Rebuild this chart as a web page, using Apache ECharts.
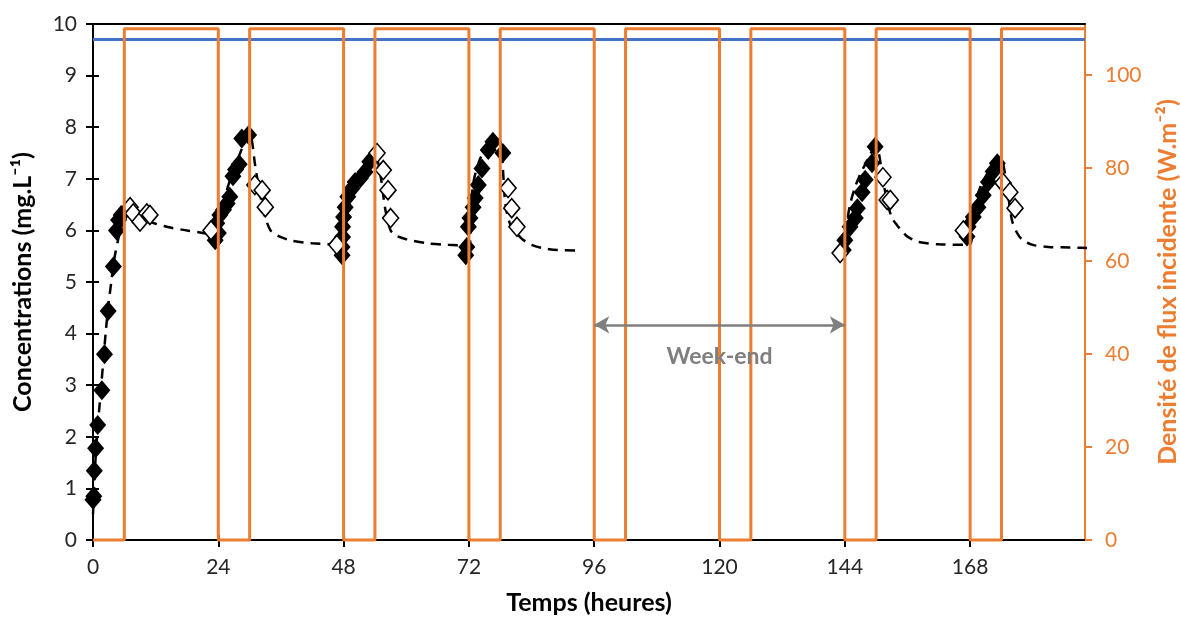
<!DOCTYPE html>
<html><head><meta charset="utf-8">
<script src="https://cdn.jsdelivr.net/npm/echarts@6/dist/echarts.min.js"></script>
<style>html,body{margin:0;padding:0;background:#fff}#c{width:1180px;height:621px}</style>
</head><body><div id="c"></div>
<script>
// ---- tick labels ----
const xTicks = [0, 24, 48, 72, 96, 120, 144, 168];
const yLeftTicks = [0, 1, 2, 3, 4, 5, 6, 7, 8, 9, 10];
const yRightTicks = [0, 20, 40, 60, 80, 100];

// ---- measured concentrations, lights on (filled diamonds) ----
const filledT = [0, 0.15, 0.25, 0.5, 0.9, 1.7, 2.2, 2.9, 3.9, 4.5, 4.9, 5.4,
  23.4, 23.7, 24, 24.3, 25, 25.7, 26.2, 26.8, 27.3, 28, 28.5, 29.8,
  47.7, 47.7, 47.8, 47.8, 48, 48.3, 48.8, 49.6, 50.2, 51.2, 52.1, 53,
  71.4, 71.6, 71.9, 72.2, 72.8, 73.2, 73.8, 74.5, 75.7, 76.6, 78.5,
  143.7, 144, 145, 146, 146.4, 147.3, 147.9, 149.2, 149.8,
  167.4, 167.6, 168.6, 169.5, 170.5, 171.5, 172.4, 173.2];
const filledC = [0.78, 0.85, 1.34, 1.78, 2.23, 2.9, 3.6, 4.44, 5.3, 6.0, 6.2, 6.3,
  5.81, 6.14, 5.95, 6.3, 6.4, 6.52, 6.65, 7.05, 7.18, 7.28, 7.78, 7.85,
  5.52, 5.68, 5.87, 6.07, 6.26, 6.45, 6.65, 6.81, 6.94, 7.01, 7.13, 7.33,
  5.52, 5.68, 6.07, 6.24, 6.45, 6.63, 6.88, 7.2, 7.56, 7.72, 7.5,
  5.62, 5.81, 6.07, 6.24, 6.43, 6.74, 6.98, 7.3, 7.62,
  5.88, 6.07, 6.26, 6.45, 6.68, 6.94, 7.14, 7.3];

// ---- measured concentrations, lights off (open diamonds) ----
const openT = [7.1, 7.7, 9, 10.3, 10.9,
  22.6, 31, 32.4, 33,
  46.7, 54.4, 55.6, 56.5, 57,
  79.5, 80.2, 81.2,
  143.1, 151.3, 152.1, 152.7,
  166.7, 174.3, 175.6, 176.6];
const openC = [6.45, 6.33, 6.17, 6.33, 6.3,
  6.0, 6.88, 6.78, 6.45,
  5.72, 7.5, 7.17, 6.78, 6.24,
  6.82, 6.43, 6.07,
  5.56, 7.03, 6.59, 6.59,
  6.0, 6.92, 6.74, 6.43];

// ---- model (dashed line), weekdays 1-4 ----
const model1T = [0, 0.5, 1, 1.5, 2, 2.5, 3, 3.5, 4, 5, 6, 7, 8, 10, 12, 15, 18, 21, 24,
  24.5, 25, 26, 27, 28, 29, 30, 30.5, 31, 32, 33, 34, 35, 36, 38, 42, 48,
  48.5, 49, 50, 51, 52, 53, 54, 55, 56, 57, 58, 60, 64, 68, 72,
  72.5, 73, 74, 75, 76, 77, 78, 78.5, 79, 80, 82, 84, 86, 89, 93];
const model1C = [0.5, 1.6, 2.3, 2.9, 3.5, 4.1, 4.6, 5.0, 5.4, 5.9, 6.2, 6.3, 6.28, 6.2, 6.13, 6.05, 6.0, 5.95, 5.9,
  6.3, 6.55, 6.9, 7.2, 7.45, 7.7, 7.88, 7.7, 7.3, 6.7, 6.25, 6.0, 5.92, 5.87, 5.8, 5.75, 5.72,
  6.4, 6.75, 6.95, 7.1, 7.25, 7.38, 7.48, 7.1, 6.4, 6.0, 5.9, 5.83, 5.75, 5.72, 5.7,
  6.6, 7.0, 7.35, 7.55, 7.7, 7.78, 7.72, 7.2, 6.5, 6.1, 5.85, 5.72, 5.66, 5.62, 5.61];
// ---- model (dashed line), after the week-end ----
const model2T = [144, 144.5, 145, 146, 147, 148, 149, 150, 150.5, 151, 152, 153, 154, 155, 156, 158, 162, 168,
  168.5, 169, 170, 171, 172, 173, 174, 174.5, 175, 176, 177, 178, 180, 183, 187, 192];
const model2C = [5.6, 6.2, 6.5, 6.85, 7.1, 7.3, 7.5, 7.62, 7.5, 7.2, 6.6, 6.25, 6.1, 5.98, 5.88, 5.78, 5.73, 5.72,
  6.3, 6.55, 6.85, 7.05, 7.2, 7.32, 7.4, 7.2, 6.9, 6.2, 5.95, 5.82, 5.72, 5.68, 5.67, 5.65];

// ---- incident light flux (square wave, right axis) ----
const lightT = [0, 6, 6, 24, 24, 30, 30, 48, 48, 54, 54, 72, 72, 78, 78, 96, 96, 102, 102, 120,
  120, 126, 126, 144, 144, 150, 150, 168, 168, 174, 174, 190];
const lightF = [0, 0, 110, 110, 0, 0, 110, 110, 0, 0, 110, 110, 0, 0, 110, 110, 0, 0, 110, 110,
  0, 0, 110, 110, 0, 0, 110, 110, 0, 0, 110, 110];

// ---- saturation line (blue) ----
const satT = [0, 190];
const satC = [9.7, 9.7];

// ---- week-end annotation ----
const weekendT = [96, 144];
const weekendY = 4.17;
const weekendLabel = 'Week-end';

const zip = (a, b) => a.map((v, i) => [v, b[i]]);

const FONT = 'Lato';
const ORANGE = '#ED7D31';
const BLACK = '#000000';
const GRAY = '#7F7F7F';

const chart = echarts.init(document.getElementById('c'), null, { renderer: 'canvas' });
chart.setOption({
  animation: false,
  backgroundColor: '#ffffff',
  textStyle: { fontFamily: FONT },
  grid: { left: 93, right: 95, top: 24, bottom: 81, containLabel: false, outerBoundsMode: 'none' },
  xAxis: [{
    type: 'value', min: 0, max: 190, position: 'bottom',
    name: 'Temps (heures)', nameLocation: 'middle', nameGap: 50,
    nameTextStyle: { fontFamily: FONT, fontSize: 25, fontWeight: 'bold', color: BLACK },
    axisLine: { show: true, onZero: false, lineStyle: { color: BLACK, width: 2 } },
    axisTick: { show: true, length: 7, customValues: xTicks, lineStyle: { color: BLACK, width: 2 } },
    axisLabel: { customValues: xTicks, margin: 17, fontFamily: FONT, fontSize: 21, color: '#262626' },
    splitLine: { show: false }
  }, {
    type: 'value', min: 0, max: 190, position: 'bottom',
    axisLine: { show: false },
    axisTick: { show: true, inside: true, length: 5, customValues: xTicks, lineStyle: { color: BLACK, width: 2 } },
    axisLabel: { show: false }, splitLine: { show: false }
  }, {
    type: 'value', min: 0, max: 190, position: 'top',
    axisLine: { show: true, onZero: false, lineStyle: { color: BLACK, width: 2 } },
    axisTick: { show: false }, axisLabel: { show: false }, splitLine: { show: false }
  }],
  yAxis: [{
    type: 'value', min: 0, max: 10, interval: 1, position: 'left',
    name: 'Concentrations (mg.L⁻¹)', nameLocation: 'middle', nameGap: 58, nameRotate: 90,
    nameTextStyle: { fontFamily: FONT, fontSize: 25, fontWeight: 'bold', color: BLACK },
    axisLine: { show: true, onZero: false, lineStyle: { color: BLACK, width: 2 } },
    axisTick: { show: true, length: 7, lineStyle: { color: BLACK, width: 2 } },
    axisLabel: { margin: 16, fontFamily: FONT, fontSize: 21, color: '#262626', customValues: yLeftTicks },
    splitLine: { show: false }
  }, {
    type: 'value', min: 0, max: 111, position: 'right',
    name: 'Densité de flux incidente (W.m⁻²)', nameLocation: 'middle', nameGap: 70, nameRotate: 90,
    nameTextStyle: { fontFamily: FONT, fontSize: 25, fontWeight: 'bold', color: ORANGE },
    axisLine: { show: true, onZero: false, lineStyle: { color: ORANGE, width: 2 } },
    axisTick: { show: true, length: 7, customValues: yRightTicks, lineStyle: { color: ORANGE, width: 2 } },
    axisLabel: { customValues: yRightTicks, margin: 20, fontFamily: FONT, fontSize: 21, color: ORANGE },
    splitLine: { show: false }
  }, {
    type: 'value', min: 0, max: 10, interval: 1, position: 'left',
    axisLine: { show: false },
    axisTick: { show: true, inside: true, length: 6, lineStyle: { color: BLACK, width: 2 } },
    axisLabel: { show: false }, splitLine: { show: false }
  }],
  series: [{
    name: 'saturation', type: 'line', xAxisIndex: 0, yAxisIndex: 0,
    data: zip(satT, satC), showSymbol: false, symbol: 'none',
    lineStyle: { color: '#4472C4', width: 3 }, z: 2
  }, {
    name: 'model', type: 'line', xAxisIndex: 0, yAxisIndex: 0,
    data: zip(model1T, model1C), symbol: 'none', smooth: 0.3,
    lineStyle: { color: BLACK, width: 2.5, type: [10, 7] }, z: 2
  }, {
    name: 'model', type: 'line', xAxisIndex: 0, yAxisIndex: 0,
    data: zip(model2T, model2C), symbol: 'none', smooth: 0.3, clip: false,
    lineStyle: { color: BLACK, width: 2.5, type: [10, 7] }, z: 2,
    markLine: {
      silent: true, symbol: ['arrow', 'arrow'], symbolSize: [13, 15],
      lineStyle: { color: GRAY, width: 2.5, type: 'solid' },
      label: {
        show: true, position: 'insideMiddleBottom', distance: 20, formatter: weekendLabel,
        fontFamily: FONT, fontSize: 23, fontWeight: 'bold', color: GRAY
      },
      data: [[{ coord: [weekendT[0], weekendY] }, { coord: [weekendT[1], weekendY] }]]
    }
  }, {
    name: 'lights on', type: 'scatter', xAxisIndex: 0, yAxisIndex: 0,
    data: zip(filledT, filledC), symbol: 'diamond', symbolSize: [17, 20],
    itemStyle: { color: BLACK, opacity: 1 }, z: 3
  }, {
    name: 'lights off', type: 'scatter', xAxisIndex: 0, yAxisIndex: 0,
    data: zip(openT, openC), symbol: 'diamond', symbolSize: [16, 19],
    itemStyle: { color: '#ffffff', borderColor: BLACK, borderWidth: 1.6, opacity: 1 }, z: 3
  }, {
    name: 'flux', type: 'line', xAxisIndex: 0, yAxisIndex: 1,
    data: zip(lightT, lightF), symbol: 'none', clip: false,
    lineStyle: { color: ORANGE, width: 3 }, z: 4
  }]
});
</script>
</body></html>
